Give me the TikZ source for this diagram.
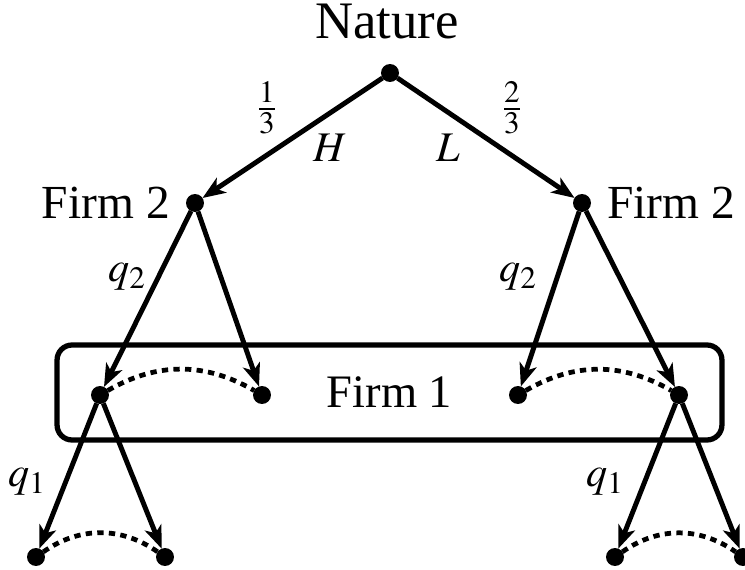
\documentclass[tikz,border=0pt]{standalone}
\usepackage{mathptmx}
\usepackage{fontspec}
\setmainfont{Liberation Serif}
\usetikzlibrary{arrows.meta, positioning}
\tikzset{
    dot/.style={circle, fill=black, inner sep=0pt, outer sep=0pt, minimum size=0.36cm},
    move/.style={-{Stealth[length=13pt, width=10pt, inset=3.5pt]}, line width=2.8pt},
    info/.style={dash pattern=on 3.6pt off 3pt, line width=2.7pt},
    who/.style={font=\fontsize{27}{32}\selectfont},
    lbl/.style={font=\fontsize{24}{28}\selectfont}
}

\begin{document}
\begin{tikzpicture}[x=0.02cm, y=0.02cm, node distance=0.2cm]
  \useasboundingbox (0,0) rectangle (745,569);

  % nature and firm 2
  \node (nat) [dot] at (390,496) {};
  \node (natlbl) [anchor=base, font=\fontsize{30}{36}\selectfont] at (387,530) {Nature};
  \node (f2l) [dot] at (195,366) {};
  \node (f2r) [dot] at (582,366) {};
  \node (f2llbl) [who, left=of f2l] {Firm 2};
  \node (f2rlbl) [who, right=of f2r] {Firm 2};

  % firm 1 and its information set
  \node (f1a) [dot] at (100,174) {};
  \node (f1b) [dot] at (262,174) {};
  \node (f1c) [dot] at (518,174) {};
  \node (f1d) [dot] at (679,174) {};
  \node (set1) [font=\fontsize{26.5}{32}\selectfont, draw, line width=3pt, rounded corners=0.3cm,
        minimum width=13.3cm, minimum height=1.9cm] at (389.5,176.5) {Firm 1};

  % end of the tree
  \node (ta) [dot] at (36,12) {};
  \node (tb) [dot] at (165,12) {};
  \node (tc) [dot] at (615,12) {};
  \node (td) [dot] at (743,12) {};

  % labels
  \node (pH) [lbl] at (267,461) {$\frac{1}{3}$};
  \node (pL) [lbl] at (512,461) {$\frac{2}{3}$};
  \node (mH) [lbl] at (330,421) {$H$};
  \node (mL) [lbl] at (448,421) {$L$};
  \node (q2l) [lbl] at (127,292) {$q_2$};
  \node (q2r) [lbl] at (518,292) {$q_2$};
  \node (q1l) [lbl] at (27,87) {$q_1$};
  \node (q1r) [lbl] at (605,87) {$q_1$};

  \draw [move] (nat) -- (f2l);
  \draw [move] (nat) -- (f2r);
  \draw [move] (f2l) -- (f1a);
  \draw [move] (f2l) -- (f1b);
  \draw [move] (f2r) -- (f1c);
  \draw [move] (f2r) -- (f1d);
  \draw [move] (f1a) -- (ta);
  \draw [move] (f1a) -- (tb);
  \draw [move] (f1d) -- (tc);
  \draw [move] (f1d) -- (td);

  \draw [info] (f1a) to[bend left=30] (f1b);
  \draw [info] (f1c) to[bend left=30] (f1d);
  \draw [info] (ta) to[bend left=35] (tb);
  \draw [info] (tc) to[bend left=35] (td);
\end{tikzpicture}
\end{document}
